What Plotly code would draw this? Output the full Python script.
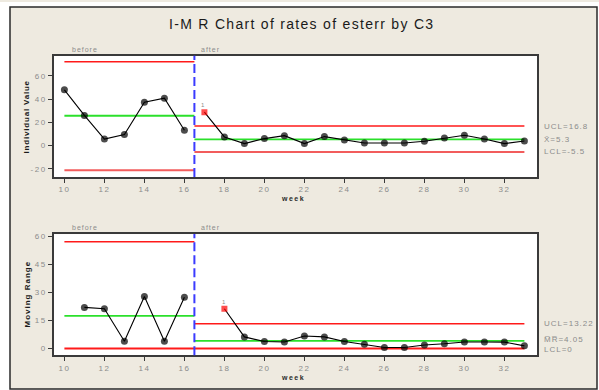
import plotly.graph_objects as go

# ---- data -------------------------------------------------------------
weeks_before = [10, 11, 12, 13, 14, 15, 16]
weeks_after = [17, 18, 19, 20, 21, 22, 23, 24, 25, 26, 27, 28, 29, 30, 31, 32, 33]

ind_before = [47.9, 25.9, 5.6, 9.4, 37.3, 40.7, 13.1]
ind_after = [28.7, 7.4, 1.7, 6.0, 8.5, 1.7, 7.7, 4.8, 2.2, 2.2, 2.2, 3.7, 6.5, 8.8, 5.6, 1.7, 3.9]

mr_weeks_before = [11, 12, 13, 14, 15, 16]
mr_before = [22.0, 21.3, 3.9, 27.9, 3.9, 27.5]
mr_weeks_after = [18, 19, 20, 21, 22, 23, 24, 25, 26, 27, 28, 29, 30, 31, 32, 33]
mr_after = [21.3, 6.2, 3.7, 3.5, 6.7, 6.2, 3.7, 2.3, 0.5, 0.5, 1.9, 2.5, 3.5, 3.5, 3.4, 1.4]

# control limits: (UCL, centre, LCL)
ind_limits_before = (72.0, 25.6, -21.2)
ind_limits_after = (16.8, 5.3, -5.5)
mr_limits_before = (57.2, 17.5, 0.0)
mr_limits_after = (13.22, 4.05, 0.0)

phase_start, phase_split, phase_end = 10, 16.5, 33
x_ticks = [10, 12, 14, 16, 18, 20, 22, 24, 26, 28, 30, 32]
ind_ticks = [-20, 0, 20, 40, 60]
mr_ticks = [0, 15, 30, 45, 60]

# ---- styling ----------------------------------------------------------
W, H = 599, 390
BEIGE = "#EEEAE0"
RED = "#FF1A1A"
PINK_RED = "#F25C5C"
GREEN = "#2BE02B"
BLUE = "#3B3BFF"
GRAY = "#8C8C8C"
FONT = "Liberation Sans, Arial, sans-serif"


def px(x):
    return x / W


def py(y):
    return 1 - y / H


def spaced(s, sp):
    """Wrap text in a span with Minitab-like wide letter spacing."""
    return f'<span style="letter-spacing:{sp}px">{s}</span>'


fig = go.Figure()


def add_limits(xa, ya, lim_before, lim_after, lcl_color):
    for (x0, x1), lim in (((phase_start, phase_split), lim_before),
                          ((phase_split, phase_end), lim_after)):
        for val, col, w in zip(lim, (RED, GREEN, lcl_color), (1.6, 1.8, 2)):
            fig.add_trace(go.Scatter(
                x=[x0, x1], y=[val, val], mode="lines",
                line=dict(color=col, width=w),
                xaxis=xa, yaxis=ya, hoverinfo="skip", showlegend=False))


def add_series(xa, ya, xs, ys, first_flag):
    symbols = ["circle"] * len(xs)
    colors = ["black"] * len(xs)
    sizes = [7] * len(xs)
    if first_flag:
        symbols[0] = "square"
        colors[0] = "#FF0000"
        sizes[0] = 6
    fig.add_trace(go.Scatter(
        x=xs, y=ys, mode="lines+markers",
        line=dict(color="black", width=1.1),
        marker=dict(symbol=symbols, color=colors, size=sizes,
                    line=dict(width=0)),
        xaxis=xa, yaxis=ya, showlegend=False))


# Individuals chart
add_limits("x", "y", ind_limits_before, ind_limits_after, PINK_RED)
add_series("x", "y", weeks_before, ind_before, False)
add_series("x", "y", weeks_after, ind_after, True)

# Moving range chart
add_limits("x2", "y2", mr_limits_before, mr_limits_after, RED)
add_series("x2", "y2", mr_weeks_before, mr_before, False)
add_series("x2", "y2", mr_weeks_after, mr_after, True)

axis_common = dict(
    showline=True, linecolor="#3A3A3A", linewidth=1.5, mirror=True,
    ticks="outside", ticklen=4, tickcolor="#3A3A3A", tickwidth=1.2,
    showgrid=False, zeroline=False,
    tickfont=dict(family=FONT, size=8, color=GRAY),
)


def tick_text(vals):
    return [spaced(v, 1.5) for v in vals]


xdom = [px(54), px(537)]
fig.update_layout(
    width=W, height=H,
    margin=dict(l=0, r=0, t=0, b=0),
    paper_bgcolor=BEIGE, plot_bgcolor="white",
    showlegend=False,
    xaxis=dict(domain=xdom, range=[9.48, 33.63], tickvals=x_ticks,
               ticktext=tick_text(x_ticks), anchor="y",
               ticklabelstandoff=0, **axis_common),
    yaxis=dict(domain=[py(176), py(54)], range=[-27.1, 77.2],
               tickvals=ind_ticks, ticktext=tick_text(ind_ticks),
               anchor="x", ticklabelstandoff=0, **axis_common),
    xaxis2=dict(domain=xdom, range=[9.48, 33.63], tickvals=x_ticks,
                ticktext=tick_text(x_ticks), anchor="y2",
                ticklabelstandoff=0, **axis_common),
    yaxis2=dict(domain=[py(355), py(233.3)], range=[-3.6, 61.3],
                tickvals=mr_ticks, ticktext=tick_text(mr_ticks),
                anchor="x2", ticklabelstandoff=0, **axis_common),
)

# white page edge around the framed panel, and the frame itself
shapes = [
    dict(type="rect", xref="paper", yref="paper", x0=0, x1=px(10), y0=0, y1=1,
         fillcolor="white", line=dict(width=0), layer="below"),
    dict(type="rect", xref="paper", yref="paper", x0=px(597), x1=1, y0=0, y1=1,
         fillcolor="white", line=dict(width=0), layer="below"),
    dict(type="rect", xref="paper", yref="paper", x0=0, x1=1, y0=py(5), y1=1,
         fillcolor="white", line=dict(width=0), layer="below"),
    dict(type="rect", xref="paper", yref="paper", x0=0, x1=1, y0=0, y1=py(389),
         fillcolor="white", line=dict(width=0), layer="below"),
    dict(type="rect", xref="paper", yref="paper", x0=px(10), x1=px(597),
         y0=py(389), y1=py(5), line=dict(color="#2A2A2A", width=1.5)),
]
# phase boundary
for xr, yr in (("x", "y domain"), ("x2", "y2 domain")):
    shapes.append(dict(type="line", xref=xr, yref=yr, x0=phase_split,
                       x1=phase_split, y0=0, y1=1,
                       line=dict(color=BLUE, width=2, dash="9px,4px")))
fig.update_layout(shapes=shapes)

ann = []


def text(s, x, y, size=8, color=GRAY, xanchor="left", angle=0, **kw):
    ann.append(dict(text=s, x=x, y=y, showarrow=False, xanchor=xanchor,
                    yanchor="middle", textangle=angle,
                    align="left" if xanchor == "left" else "center",
                    font=dict(family=FONT, size=size, color=color), **kw))


P = dict(xref="paper", yref="paper")
text(spaced("I-M R Chart of rates of esterr by C3", 1.3), px(301), py(22),
     size=14, color="#1A1A1A", xanchor="center", **P)
for ytop in (48, 226.7):
    text(spaced("before", 1), px(70), py(ytop), size=7, **P)
    text(spaced("after", 1), px(199), py(ytop), size=7, **P)
for ywk in (198, 377):
    text(spaced("<b>week</b>", 1.5), px(293), py(ywk), size=7,
         color="#2A2A2A", xanchor="center", **P)
text(spaced("<b>Individual Value</b>", 0.8), px(26), py(116), size=8,
     color="#1A1A1A", xanchor="center", angle=-90, **P)
text(spaced("<b>Moving Range</b>", 1), px(27), py(294), size=8,
     color="#1A1A1A", xanchor="center", angle=-90, **P)

# limit labels at the right
ucl, cl, lcl = ind_limits_after
text(spaced(f"UCL={ucl:g}", 1), px(542), ucl, xref="paper", yref="y")
text(spaced(f"X\u0304={cl:g}", 1), px(542), cl, xref="paper", yref="y")
text(spaced(f"LCL={lcl:g}", 1), px(542), lcl, xref="paper", yref="y")
ucl, cl, lcl = mr_limits_after
text(spaced(f"UCL={ucl:g}", 1), px(542), ucl, xref="paper", yref="y2")
text(spaced(f"M\u0305R\u0305={cl:g}", 1), px(542), cl, xref="paper",
     yref="y2", yshift=1)
text(spaced(f"LCL={lcl:g}", 1), px(542), lcl, xref="paper", yref="y2",
     yshift=-1)

# test-failure flags on out-of-control points
text("1", weeks_after[0], ind_after[0], size=6, xanchor="center",
     xref="x", yref="y", xshift=-1, yshift=7)
text("1", mr_weeks_after[0], mr_after[0], size=6, xanchor="center",
     xref="x2", yref="y2", yshift=7)

fig.update_layout(annotations=ann)

fig.write_html("out.html")
